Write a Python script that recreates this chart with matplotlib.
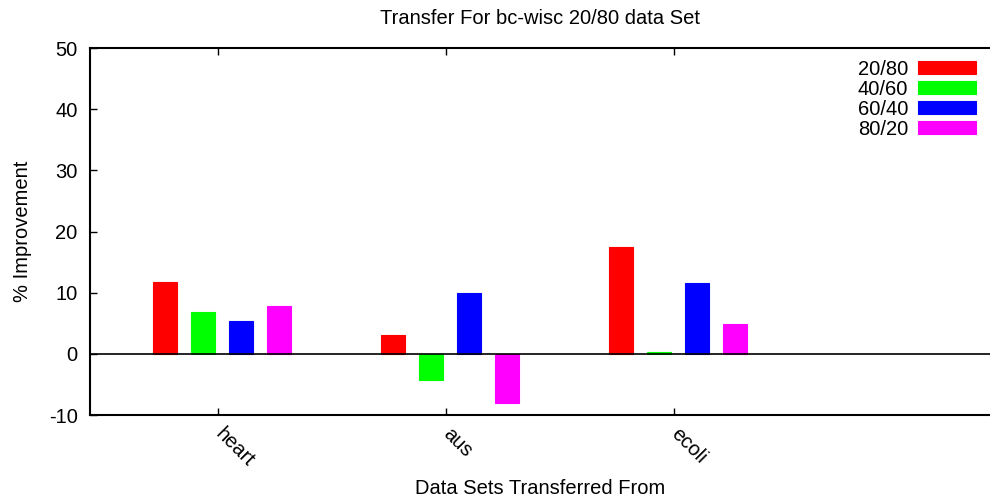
import matplotlib.pyplot as plt
import matplotlib.transforms as mtransforms
import numpy as np

plt.rcParams['font.family'] = ['Liberation Sans', 'DejaVu Sans']
plt.rcParams['axes.unicode_minus'] = False

datasets = ["heart", "aus", "ecoli"]
splits = ["20/80", "40/60", "60/40", "80/20"]
improvement = {
    "20/80": [11.8, 3.1, 17.5],
    "40/60": [6.8, -4.3, 0.3],
    "60/40": [5.4, 10.0, 11.5],
    "80/20": [7.9, -8.0, 4.9],
}
colors = ["#ff0000", "#00ff00", "#0000ff", "#ff00ff"]
fs = 14.5

fig = plt.figure(figsize=(9.9, 4.98), dpi=100)
ax = fig.add_axes([90 / 990, 83 / 498, 900 / 990, 367 / 498])

x = np.arange(len(datasets))
width = 0.105
offsets = [-0.232, -0.066, 0.101, 0.268]
for k, split in enumerate(splits):
    ax.bar(x + offsets[k], improvement[split], width, color=colors[k],
           edgecolor=colors[k], linewidth=0.8, label=split, zorder=2)

ax.axhline(0, color="black", linewidth=1.2, zorder=3)

ax.set_xlim(-0.561, 3.386)
ax.set_ylim(-10, 50)
ax.set_yticks(range(-10, 51, 10))
ax.set_xticks(x)
ax.tick_params(direction="in", length=5, width=1, labelsize=fs,
               top=True, right=False, color="black")
ax.tick_params(axis="x", pad=7)
ax.tick_params(axis="y", pad=9)
ax.set_xticklabels(datasets, rotation=-45, ha="left", va="top",
                   rotation_mode="anchor")
# nudge the slanted labels so they start right under their ticks
shift = mtransforms.ScaledTranslation(7 / 100, 0, fig.dpi_scale_trans)
for tick in ax.xaxis.get_major_ticks():
    tick.label1.set_transform(tick.label1.get_transform() + shift)
for side in ["left", "bottom", "top"]:
    ax.spines[side].set_linewidth(1.5)
ax.spines["right"].set_visible(False)

ax.set_title("Transfer For bc-wisc 20/80 data Set", fontsize=fs, pad=17)
ax.set_xlabel("Data Sets Transferred From", fontsize=fs, labelpad=6)
ax.set_ylabel("% Improvement", fontsize=fs, labelpad=12)

ax.legend(loc="upper right", bbox_to_anchor=(0.9935, 0.9905), frameon=False,
          fontsize=fs, markerfirst=False, handlelength=2.88, handleheight=0.6,
          handletextpad=0.5, labelspacing=0.05, borderaxespad=0)

fig.savefig("out.png", dpi=100)
